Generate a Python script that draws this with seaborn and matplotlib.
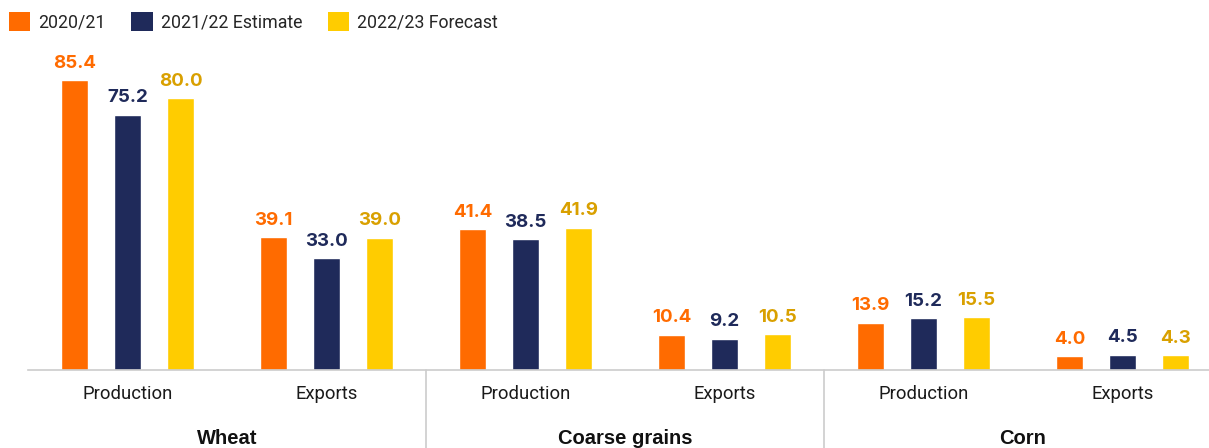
import matplotlib
matplotlib.use("Agg")
import matplotlib.pyplot as plt
import seaborn as sns
import pandas as pd
from matplotlib.patches import Patch

commodities = ["Wheat", "Coarse grains", "Corn"]
measures = ["Production", "Exports"]
years = ["2020/21", "2021/22 Estimate", "2022/23 Forecast"]
v_2020 = [85.4, 39.1, 41.4, 10.4, 13.9, 4.0]
v_2021 = [75.2, 33.0, 38.5, 9.2, 15.2, 4.5]
v_2022 = [80.0, 39.0, 41.9, 10.5, 15.5, 4.3]

bar_colors = ["#FF6B00", "#1F2A5A", "#FFCC00"]
label_colors = ["#FF6B00", "#1F2A5A", "#D9A000"]

keys = [f"{c}|{m}" for c in commodities for m in measures]
sub_labels = [m for c in commodities for m in measures]
rows = []
for yr, vals in zip(years, [v_2020, v_2021, v_2022]):
    for k, v in zip(keys, vals):
        rows.append({"key": k, "year": yr, "value": v})
df = pd.DataFrame(rows)

sns.set_theme(style="white")
plt.rcParams["font.family"] = ["Roboto", "DejaVu Sans"]
value_family = ["Inter", "DejaVu Sans"]
group_family = ["Liberation Sans", "DejaVu Sans"]

fig = plt.figure(figsize=(12.09, 4.48), dpi=100)
ax = fig.add_axes([0.0232, 0.174, 0.99, 0.737])

sns.barplot(data=df, x="key", y="value", hue="year", order=keys, hue_order=years,
            palette=bar_colors, width=0.8, gap=0.49, ax=ax, legend=False,
            saturation=1, errorbar=None)

for cont, col in zip(ax.containers, label_colors):
    ax.bar_label(cont, fmt="%.1f", padding=6, color=col, fontsize=13.5,
                 fontweight="bold", family=value_family)

ax.set_xlim(-0.5, 5.515)
ax.set_ylim(0, 97.2)
ax.set_xticks(range(len(keys)))
ax.set_xticklabels(sub_labels, fontsize=13.3, color="#1a1a1a")
ax.tick_params(axis="x", length=0, pad=11)
ax.set_yticks([])
ax.set_xlabel("")
ax.set_ylabel("")
for s in ["top", "right", "left"]:
    ax.spines[s].set_visible(False)
ax.spines["bottom"].set_color("#CCCCCC")
ax.spines["bottom"].set_linewidth(1.2)

# group separators and group labels
for xsep in [1.5, 3.5]:
    ax.plot([xsep, xsep], [0, -0.245], transform=ax.get_xaxis_transform(),
            color="#CCCCCC", lw=1.2, clip_on=False)
for i, c in enumerate(commodities):
    ax.text(2 * i + 0.5, -0.2065, c, transform=ax.get_xaxis_transform(),
            ha="center", va="center", fontsize=14.5, fontweight="bold",
            color="#111111", family=group_family)

handles = [Patch(facecolor=c, edgecolor="none") for c in bar_colors]
fig.legend(handles, years, loc="upper left", bbox_to_anchor=(-0.003, 1.0), ncol=3,
           frameon=False, fontsize=12.8, handlelength=1.2, handleheight=1.25,
           handletextpad=0.45, columnspacing=1.45, borderaxespad=0.3)

fig.savefig("out.png", dpi=100)
